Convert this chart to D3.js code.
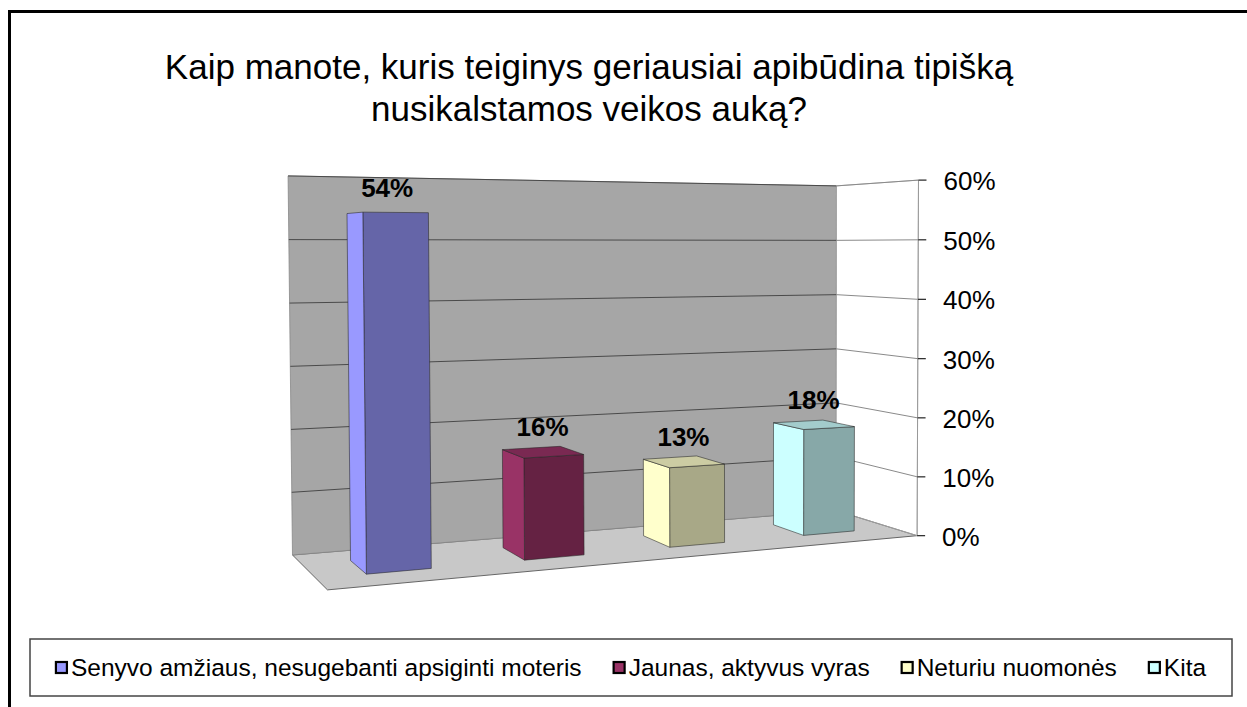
<!DOCTYPE html>
<html>
<head>
<meta charset="utf-8">
<script src="https://cdnjs.cloudflare.com/ajax/libs/d3/7.8.5/d3.min.js"></script>
<style>
  body { margin: 0; background: #fff; }
  svg { display: block; font-family: "Liberation Sans", Arial, sans-serif; }
</style>
</head>
<body>
<svg id="chart" width="1247" height="707"></svg>
<script>
const categories = ["Senyvo amžiaus, nesugebanti apsiginti moteris", "Jaunas, aktyvus vyras", "Neturiu nuomonės", "Kita"]
const values = [54, 16, 13, 18]
const colors = ["#9999ff", "#993366", "#ffffcc", "#ccffff"]
const ticks = [0, 10, 20, 30, 40, 50, 60]
const titleLines = ["Kaip manote, kuris teiginys geriausiai apibūdina tipišką", "nusikalstamos veikos auką?"]

const svg = d3.select("#chart")

// corners of the 3d plot box: [x, y, z, screenX, screenY]
const frame = [
  [0, 0, 1, 293, 553],
  [1, 0, 1, 835, 513],
  [0, 1, 1, 288, 176],
  [1, 1, 1, 837, 185],
  [0, 0, 0, 327, 592],
  [1, 0, 0, 918, 533],
  [1, 1, 0, 918, 181]
]

// least squares fit of a perspective camera to the box corners
function fitCamera(pts) {
  const n = 11;
  const M = d3.range(n).map(() => d3.range(n + 1).map(() => 0));
  const addRow = (row, rhs) => {
    for (let i = 0; i < n; i++) {
      for (let j = 0; j < n; j++) M[i][j] += row[i] * row[j];
      M[i][n] += row[i] * rhs;
    }
  };
  pts.forEach(([X, Y, Z, u, v]) => {
    addRow([X, Y, Z, 1, 0, 0, 0, 0, -u * X, -u * Y, -u * Z], u);
    addRow([0, 0, 0, 0, X, Y, Z, 1, -v * X, -v * Y, -v * Z], v);
  });
  for (let i = 0; i < n; i++) {
    let p = i;
    for (let r = i + 1; r < n; r++) if (Math.abs(M[r][i]) > Math.abs(M[p][i])) p = r;
    const tmp = M[i]; M[i] = M[p]; M[p] = tmp;
    for (let r = 0; r < n; r++) {
      if (r === i) continue;
      const f = M[r][i] / M[i][i];
      for (let c = i; c <= n; c++) M[r][c] -= f * M[i][c];
    }
  }
  const p = M.map((row, i) => row[n] / row[i]);
  return ([X, Y, Z]) => {
    const w = p[8] * X + p[9] * Y + p[10] * Z + 1;
    return [(p[0] * X + p[1] * Y + p[2] * Z + p[3]) / w, (p[4] * X + p[5] * Y + p[6] * Z + p[7]) / w];
  };
}
const project = fitCamera(frame)

const x = d3.scaleBand().domain(categories).range([0, 1]).paddingInner(0.6).paddingOuter(0.3)
const y = d3.scaleLinear().domain([0, 60]).range([0, 1])
const zFront = 0.3, zBack = 0.7

const poly = pts => "M" + pts.map(p => project(p).map(d => d.toFixed(2)).join(",")).join("L") + "Z"

// outer border
svg.append("path")
  .attr("d", "M9.5,710V11.5H1250")
  .attr("fill", "none").attr("stroke", "#000").attr("stroke-width", 3)

// title
svg.append("g").selectAll("text")
  .data(titleLines)
  .join("text")
  .attr("x", 589)
  .attr("y", (d, i) => 79 + i * 42)
  .attr("text-anchor", "middle")
  .attr("font-size", 35)
  .attr("fill", "#000")
  .text(d => d)

const plot = svg.append("g")

// floor, back wall, side wall
plot.append("path").attr("d", poly([[0, 0, 0], [1, 0, 0], [1, 0, 1], [0, 0, 1]]))
  .attr("fill", "#c8c8c8").attr("stroke", "#666").attr("stroke-width", 1)
plot.append("path").attr("d", poly([[0, 0, 1], [1, 0, 1], [1, 1, 1], [0, 1, 1]]))
  .attr("fill", "#a6a6a6").attr("stroke", "#888").attr("stroke-width", 0.8)
plot.append("path").attr("d", poly([[1, 0, 1], [1, 0, 0], [1, 1, 0], [1, 1, 1]]))
  .attr("fill", "none").attr("stroke", "#aaa").attr("stroke-width", 0.8)

// gridlines
plot.append("g").selectAll("path")
  .data(ticks.filter(t => t > 0))
  .join("path")
  .attr("d", t => "M" + project([0, y(t), 1]) + "L" + project([1, y(t), 1]))
  .attr("stroke", "#4a4a4a").attr("stroke-width", 1).attr("fill", "none")
plot.append("g").selectAll("path")
  .data(ticks.filter(t => t > 0))
  .join("path")
  .attr("d", t => "M" + project([1, y(t), 1]) + "L" + project([1, y(t), 0]))
  .attr("stroke", "#8a8a8a").attr("stroke-width", 1).attr("fill", "none")

// value axis
const axis = plot.append("g")
axis.append("path")
  .attr("d", "M" + project([1, 0, 0]) + "L" + project([1, 1, 0]))
  .attr("stroke", "#999").attr("stroke-width", 1)
ticks.forEach(t => {
  const [px, py] = project([1, y(t), 0])
  axis.append("line")
    .attr("x1", px).attr("x2", px + 8).attr("y1", py).attr("y2", py)
    .attr("stroke", "#222").attr("stroke-width", 1.2)
  axis.append("text")
    .attr("x", px + 25).attr("y", py + 10)
    .attr("font-size", 26)
    .text(t + "%")
})

// bars
function shade(c, k) {
  const col = d3.rgb(c)
  return d3.rgb(col.r * k, col.g * k, col.b * k).formatHex()
}
const area = pts => {
  const s = pts.map(project)
  let a = 0
  for (let i = 0; i < s.length; i++) {
    const p = s[i], q = s[(i + 1) % s.length]
    a += p[0] * q[1] - q[0] * p[1]
  }
  return a
}

const bars = plot.append("g")
categories.forEach((c, i) => {
  const x0 = x(c), x1 = x(c) + x.bandwidth()
  const y0 = y(0), y1 = y(values[i])
  const faces = [
    { pts: [[x0, y0, zFront], [x1, y0, zFront], [x1, y1, zFront], [x0, y1, zFront]], k: 0.66 },
    { pts: [[x0, y0, zBack], [x0, y0, zFront], [x0, y1, zFront], [x0, y1, zBack]], k: 1 },
    { pts: [[x1, y0, zFront], [x1, y0, zBack], [x1, y1, zBack], [x1, y1, zFront]], k: 0.5 },
    { pts: [[x0, y1, zFront], [x1, y1, zFront], [x1, y1, zBack], [x0, y1, zBack]], k: 0.8 }
  ]
  faces.filter(f => area(f.pts) < 0).forEach(f => {
    bars.append("path")
      .attr("d", poly(f.pts))
      .attr("fill", shade(colors[i], f.k))
      .attr("stroke", "rgba(40,40,40,0.7)")
      .attr("stroke-width", 0.8)
      .attr("stroke-linejoin", "round")
  })
  const [lx, ly] = project([x0 + x.bandwidth() / 2, y1, 0.5])
  bars.append("text")
    .attr("x", lx).attr("y", ly - 16)
    .attr("text-anchor", "middle")
    .attr("font-size", 26)
    .attr("font-weight", "bold")
    .text(values[i] + "%")
})

// legend
const legend = svg.append("g")
legend.append("rect")
  .attr("x", 30).attr("y", 639).attr("width", 1202).attr("height", 57)
  .attr("fill", "#fff").attr("stroke", "#444").attr("stroke-width", 1.5)
const items = legend.selectAll("g.item")
  .data(categories)
  .join("g").attr("class", "item")
items.append("rect")
  .attr("width", 11).attr("height", 11).attr("y", -14)
  .attr("fill", (d, i) => colors[i]).attr("stroke", "#000").attr("stroke-width", 2.2)
items.append("text")
  .attr("x", 15).attr("font-size", 24.5)
  .text(d => d)
const widths = []
items.select("text").each(function () { widths.push(15 + this.getComputedTextLength()) })
const gap = 32
const total = d3.sum(widths) + gap * (widths.length - 1)
let cx = 30 + (1202 - total) / 2
items.attr("transform", (d, i) => {
  const t = "translate(" + cx + ",676)"
  cx += widths[i] + gap
  return t
})
</script>
</body>
</html>
